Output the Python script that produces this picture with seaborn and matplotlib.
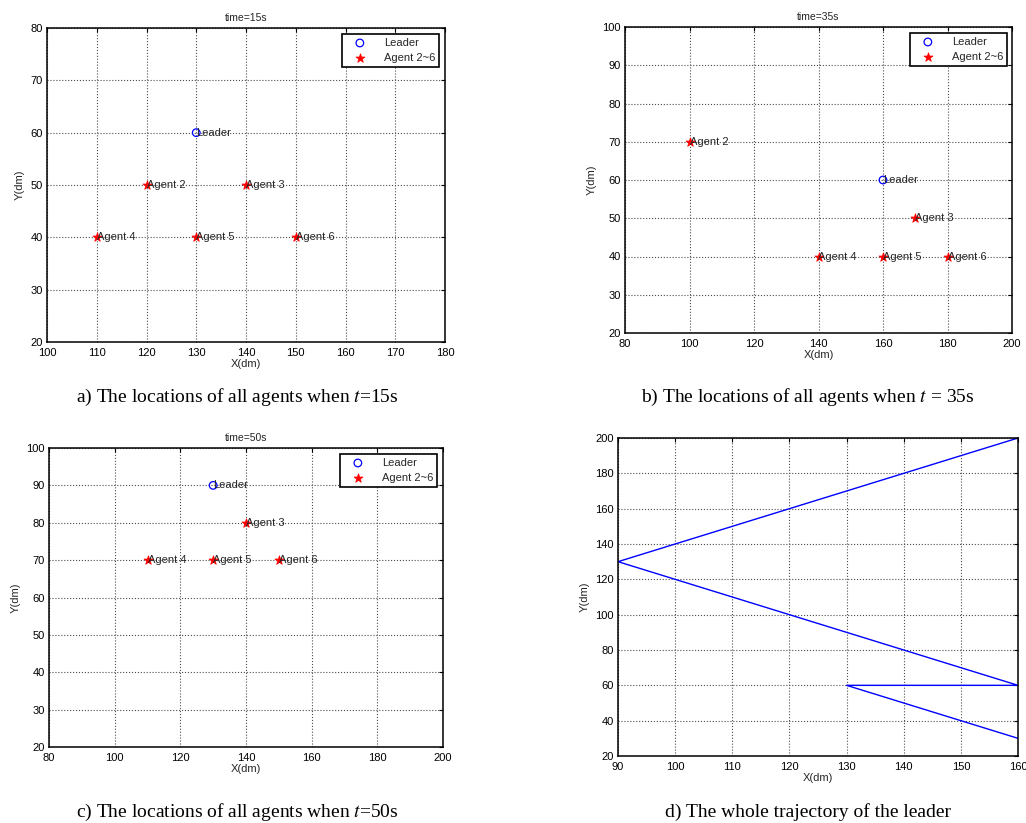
import pandas as pd
import matplotlib
matplotlib.use("Agg")
import matplotlib.pyplot as plt
import seaborn as sns

sns.set_style("white")
plt.rcParams['font.family'] = ['Liberation Sans', 'DejaVu Sans']
plt.rcParams['mathtext.fontset'] = 'stix'

# data: positions at t=15s
leader_15 = (130, 60)
agents_15_x = [120, 140, 110, 130, 150]
agents_15_y = [50, 50, 40, 40, 40]
agents_15_names = ['Agent 2', 'Agent 3', 'Agent 4', 'Agent 5', 'Agent 6']

# t=35s
leader_35 = (160, 60)
agents_35_x = [100, 170, 140, 160, 180]
agents_35_y = [70, 50, 40, 40, 40]
agents_35_names = ['Agent 2', 'Agent 3', 'Agent 4', 'Agent 5', 'Agent 6']

# t=50s (Agent 2 outside the view)
leader_50 = (130, 90)
agents_50_x = [140, 110, 130, 150]
agents_50_y = [80, 70, 70, 70]
agents_50_names = ['Agent 3', 'Agent 4', 'Agent 5', 'Agent 6']

# whole leader trajectory
traj_x = [160, 150, 140, 130, 140, 150, 160, 150, 140, 130, 120, 110, 100, 90,
          100, 110, 120, 130, 140, 150, 160]
traj_y = [30, 40, 50, 60, 60, 60, 60, 70, 80, 90, 100, 110, 120, 130,
          140, 150, 160, 170, 180, 190, 200]

captions = [r"a) The locations of all agents when $t$=15s",
            r"b) The locations of all agents when $t$ = 35s",
            r"c) The locations of all agents when $t$=50s",
            "d) The whole trajectory of the leader"]

W, H = 1026, 823
fig = plt.figure(figsize=(W / 100, H / 100), dpi=100)


def px_axes(left, top, right, bottom):
    return fig.add_axes([left / W, 1 - bottom / H, (right - left) / W, (bottom - top) / H])


def style_axes(ax, xlim, ylim, xticks, yticks):
    ax.set_xlim(*xlim)
    ax.set_ylim(*ylim)
    ax.set_xticks(xticks)
    ax.set_yticks(yticks)
    ax.grid(True, linestyle=':', color='0.3', linewidth=0.8)
    ax.tick_params(direction='in', top=True, right=True, length=3, width=0.8,
                   labelsize=8, colors='black')
    ax.tick_params(axis='x', pad=4)
    ax.tick_params(axis='y', pad=3)
    for s in ax.spines.values():
        s.set_visible(True)
        s.set_color('black')
        s.set_linewidth(1.1)
    ax.set_xlabel('X(dm)', fontsize=8, labelpad=1)
    ax.set_ylabel('Y(dm)', fontsize=8, labelpad=4)


def agents_panel(ax, leader, ax_x, ax_y, names, title, xlim, xticks, ylim, yticks, leg_anchor):
    style_axes(ax, xlim, ylim, xticks, yticks)
    sns.scatterplot(x=[leader[0]], y=[leader[1]], ax=ax, marker='o', s=30,
                    color='blue', facecolor='none', edgecolor='blue', linewidth=0.9,
                    label='Leader', zorder=3)
    sns.scatterplot(x=ax_x, y=ax_y, ax=ax, marker='*', s=45, color='red',
                    edgecolor='red', linewidth=0.6, label='Agent 2~6', zorder=3)
    ax.text(leader[0], leader[1], 'Leader', fontsize=8, ha='left', va='center')
    for x, y, n in zip(ax_x, ax_y, names):
        ax.text(x, y, n, fontsize=8, ha='left', va='center')
    ax.set_title(title, fontsize=7.5, pad=5)
    leg = ax.legend(loc='upper right', bbox_to_anchor=leg_anchor,
                    bbox_transform=fig.transFigure, fontsize=8, frameon=True,
                    fancybox=False, edgecolor='black', framealpha=1,
                    handlelength=2.5, handletextpad=0.9, borderpad=0.35,
                    labelspacing=0.45, borderaxespad=0)
    leg.get_frame().set_linewidth(1.2)


ax_a = px_axes(47, 28, 445, 342)
agents_panel(ax_a, leader_15, agents_15_x, agents_15_y, agents_15_names, 'time=15s',
             (100, 180), range(100, 181, 10), (20, 80), range(20, 81, 10),
             (439 / W, 1 - 34 / H))

ax_b = px_axes(625, 27, 1012, 333)
agents_panel(ax_b, leader_35, agents_35_x, agents_35_y, agents_35_names, 'time=35s',
             (80, 200), range(80, 201, 20), (20, 100), range(20, 101, 10),
             (1007 / W, 1 - 33 / H))

ax_c = px_axes(49, 448, 443, 747)
agents_panel(ax_c, leader_50, agents_50_x, agents_50_y, agents_50_names, 'time=50s',
             (80, 200), range(80, 201, 20), (20, 100), range(20, 101, 10),
             (437 / W, 1 - 454 / H))

ax_d = px_axes(618, 438, 1018, 756)
style_axes(ax_d, (90, 160), (20, 200), range(90, 161, 10), range(20, 201, 20))
traj = pd.DataFrame({'x': traj_x, 'y': traj_y})
sns.lineplot(data=traj, x='x', y='y', ax=ax_d, sort=False, estimator=None,
             color='blue', linewidth=1.0)
ax_d.set_xlabel('X(dm)', fontsize=8, labelpad=1)
ax_d.set_ylabel('Y(dm)', fontsize=8, labelpad=4)

# captions under each panel
cap_pos = [(237, 397), (808, 397), (237, 812), (808, 812)]
for (cx, cy), cap in zip(cap_pos, captions):
    fig.text(cx / W, 1 - cy / H, cap, ha='center', va='center', fontsize=14,
             color='black', family=['Liberation Serif', 'DejaVu Serif'])

fig.savefig('out.png', dpi=100)
